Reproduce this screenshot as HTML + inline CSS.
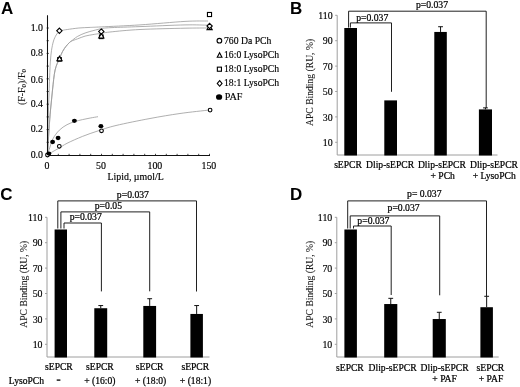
<!DOCTYPE html>
<html><head><meta charset="utf-8"><title>Figure</title>
<style>
html,body{margin:0;padding:0;background:#fff;}
body{width:520px;height:387px;overflow:hidden;}
svg{display:block;will-change:transform;opacity:0.999;}
text{font-family:"Liberation Serif", serif;fill:#000;stroke:#000;stroke-width:0.22px;}
.lbl{font-family:"Liberation Sans", sans-serif;font-weight:bold;font-size:17px;fill:#000;stroke:none;}
.t{font-size:9.6px;}
.tk{font-size:9.9px;stroke-width:0.15px;}
.yt{font-size:9.62px;fill:#1a1a1a;stroke-width:0.08px;}
.p{font-size:9.7px;}
.c{text-anchor:middle;}
.e{text-anchor:end;}
.ax{stroke:#9e9e9e;stroke-width:1;fill:none;}
.bk{stroke:#141414;stroke-width:0.95;fill:none;}
.bar{fill:#000;}
.err{stroke:#111;stroke-width:1;fill:none;}
.cv{stroke:#9a9a9a;stroke-width:0.8;fill:none;}
.mk{stroke:#000;stroke-width:1.1;fill:#fff;}
.mf{stroke:none;fill:#000;}
</style></head><body>
<svg width="520" height="387" viewBox="0 0 520 387">
<rect x="0" y="0" width="520" height="387" fill="#fff"/>

<g id="panelA">
<text class="lbl" transform="translate(0.9,14.3) scale(1,1.02)">A</text>
<path class="cv" d="M47.50,155.00 C47.62,149.17 47.95,130.00 48.20,120.00 C48.45,110.00 48.72,103.33 49.00,95.00 C49.28,86.67 49.65,75.83 49.90,70.00 C50.15,64.17 50.23,63.27 50.50,60.00 C50.77,56.73 51.00,53.57 51.50,50.40 C52.00,47.23 52.72,43.57 53.50,41.00 C54.28,38.43 55.25,36.62 56.20,35.00 C57.15,33.38 58.13,32.08 59.20,31.30 C60.27,30.52 61.25,30.60 62.60,30.30 C63.95,30.00 64.58,29.88 67.30,29.50 C70.02,29.12 75.03,28.35 78.90,28.00 C82.77,27.65 86.77,27.58 90.50,27.40 C94.23,27.22 93.05,27.32 101.30,26.90 C109.55,26.48 126.05,25.82 140.00,24.90 C153.95,23.98 173.67,22.05 185.00,21.40 C196.33,20.75 204.17,21.07 208.00,21.00"/>
<path class="cv" d="M47.50,155.00 C47.75,150.83 48.50,137.50 49.00,130.00 C49.50,122.50 49.92,116.67 50.50,110.00 C51.08,103.33 51.73,96.67 52.50,90.00 C53.27,83.33 53.93,75.25 55.10,70.00 C56.27,64.75 58.23,61.62 59.50,58.50 C60.77,55.38 61.65,53.28 62.70,51.30 C63.75,49.32 64.77,47.97 65.80,46.60 C66.83,45.23 68.00,44.00 68.90,43.10 C69.80,42.20 69.78,42.30 71.20,41.20 C72.62,40.10 75.08,37.87 77.40,36.50 C79.72,35.13 82.52,33.97 85.10,33.00 C87.68,32.03 90.75,31.30 92.90,30.70 C95.05,30.10 96.32,29.80 98.00,29.40 C99.68,29.00 100.67,28.60 103.00,28.30 C105.33,28.00 105.83,27.88 112.00,27.60 C118.17,27.32 127.83,27.05 140.00,26.60 C152.17,26.15 173.67,25.13 185.00,24.90 C196.33,24.67 204.17,25.15 208.00,25.20"/>
<path class="cv" d="M47.50,155.00 C47.75,150.83 48.50,137.50 49.00,130.00 C49.50,122.50 49.92,116.67 50.50,110.00 C51.08,103.33 51.73,96.67 52.50,90.00 C53.27,83.33 53.93,75.25 55.10,70.00 C56.27,64.75 58.23,61.62 59.50,58.50 C60.77,55.38 61.65,53.28 62.70,51.30 C63.75,49.32 64.77,47.97 65.80,46.60 C66.83,45.23 68.00,44.00 68.90,43.10 C69.80,42.20 69.78,41.90 71.20,41.20 C72.62,40.50 75.08,39.75 77.40,38.90 C79.72,38.05 82.52,36.82 85.10,36.10 C87.68,35.38 90.75,34.98 92.90,34.60 C95.05,34.22 95.15,34.23 98.00,33.80 C100.85,33.37 103.00,32.72 110.00,32.00 C117.00,31.28 127.50,30.13 140.00,29.50 C152.50,28.87 173.67,28.45 185.00,28.20 C196.33,27.95 204.17,28.03 208.00,28.00"/>
<path class="cv" d="M47.50,155.00 C48.42,154.42 51.03,152.67 53.00,151.50 C54.97,150.33 56.97,149.37 59.30,148.00 C61.63,146.63 63.13,145.23 67.00,143.30 C70.87,141.37 77.33,138.47 82.50,136.40 C87.67,134.33 92.42,132.72 98.00,130.90 C103.58,129.08 107.33,127.57 116.00,125.50 C124.67,123.43 139.33,120.50 150.00,118.50 C160.67,116.50 170.08,114.92 180.00,113.50 C189.92,112.08 204.58,110.58 209.50,110.00"/>
<path class="cv" d="M47.50,155.00 C47.78,154.08 48.28,152.22 49.20,149.50 C50.12,146.78 51.32,141.92 53.00,138.70 C54.68,135.48 56.97,132.53 59.30,130.20 C61.63,127.87 64.42,126.13 67.00,124.70 C69.58,123.27 72.22,122.45 74.80,121.60 C77.38,120.75 79.92,120.20 82.50,119.60 C85.08,119.00 87.72,118.48 90.30,118.00 C92.88,117.52 96.72,116.92 98.00,116.70"/>
<path d="M47.5,15.3 V155.5 H210" stroke="#111" stroke-width="1.05" fill="none"/>
<path d="M46.6,155.00 h2.2" stroke="#111" stroke-width="0.8"/>
<path d="M46.6,142.30 h2.2" stroke="#111" stroke-width="0.8"/>
<path d="M46.6,129.60 h2.2" stroke="#111" stroke-width="0.8"/>
<path d="M46.6,116.90 h2.2" stroke="#111" stroke-width="0.8"/>
<path d="M46.6,104.20 h2.2" stroke="#111" stroke-width="0.8"/>
<path d="M46.6,91.50 h2.2" stroke="#111" stroke-width="0.8"/>
<path d="M46.6,78.80 h2.2" stroke="#111" stroke-width="0.8"/>
<path d="M46.6,66.10 h2.2" stroke="#111" stroke-width="0.8"/>
<path d="M46.6,53.40 h2.2" stroke="#111" stroke-width="0.8"/>
<path d="M46.6,40.70 h2.2" stroke="#111" stroke-width="0.8"/>
<path d="M46.6,28.00 h2.2" stroke="#111" stroke-width="0.8"/>
<path d="M47.50,155.5 v-1.7" stroke="#111" stroke-width="0.8"/>
<path d="M58.30,155.5 v-1.7" stroke="#111" stroke-width="0.8"/>
<path d="M69.10,155.5 v-1.7" stroke="#111" stroke-width="0.8"/>
<path d="M79.90,155.5 v-1.7" stroke="#111" stroke-width="0.8"/>
<path d="M90.70,155.5 v-1.7" stroke="#111" stroke-width="0.8"/>
<path d="M101.50,155.5 v-1.7" stroke="#111" stroke-width="0.8"/>
<path d="M112.30,155.5 v-1.7" stroke="#111" stroke-width="0.8"/>
<path d="M123.10,155.5 v-1.7" stroke="#111" stroke-width="0.8"/>
<path d="M133.90,155.5 v-1.7" stroke="#111" stroke-width="0.8"/>
<path d="M144.70,155.5 v-1.7" stroke="#111" stroke-width="0.8"/>
<path d="M155.50,155.5 v-1.7" stroke="#111" stroke-width="0.8"/>
<path d="M166.30,155.5 v-1.7" stroke="#111" stroke-width="0.8"/>
<path d="M177.10,155.5 v-1.7" stroke="#111" stroke-width="0.8"/>
<path d="M187.90,155.5 v-1.7" stroke="#111" stroke-width="0.8"/>
<path d="M198.70,155.5 v-1.7" stroke="#111" stroke-width="0.8"/>
<path d="M209.50,155.5 v-1.7" stroke="#111" stroke-width="0.8"/>
<text class="tk e" x="43.0" y="157.50">0.0</text>
<text class="tk e" x="43.0" y="132.20">0.2</text>
<text class="tk e" x="43.0" y="107.00">0.4</text>
<text class="tk e" x="43.0" y="83.30">0.6</text>
<text class="tk e" x="43.0" y="55.90">0.8</text>
<text class="tk e" x="43.0" y="31.10">1.0</text>
<text class="tk c" x="46.90" y="169.0">0</text>
<text class="tk c" x="100.90" y="169.0">50</text>
<text class="tk c" x="154.90" y="169.0">100</text>
<text class="tk c" x="208.90" y="169.0">150</text>
<text class="tk c" x="135.6" y="180">Lipid, µmol/L</text>
<text class="tk c" style="fill:#222;stroke-width:0.1px" transform="translate(24.6,87) rotate(-90)">(F-F<tspan font-size="7" dy="1.8">0</tspan><tspan dy="-1.8">)/F</tspan><tspan font-size="7" dy="1.8">0</tspan></text>
<circle class="mk" cx="47.50" cy="155.00" r="1.85"/>
<circle class="mk" cx="59.30" cy="146.30" r="1.85"/>
<circle class="mk" cx="101.50" cy="130.80" r="1.85"/>
<circle class="mk" cx="210.10" cy="110.10" r="1.85"/>
<rect class="mk" x="57.70" y="57.60" width="3.6" height="3.6"/>
<rect class="mk" x="99.50" y="35.00" width="3.6" height="3.6"/>
<rect class="mk" x="207.45" y="12.45" width="4.1" height="4.1"/>
<path class="mk" d="M59.50,56.20 L62.10,60.80 L56.90,60.80 Z"/>
<path class="mk" d="M101.30,33.40 L103.90,38.00 L98.70,38.00 Z"/>
<path class="mk" d="M209.60,25.00 L212.20,29.60 L207.00,29.60 Z"/>
<path class="mk" d="M59.40,28.15 L62.05,30.80 L59.40,33.45 L56.75,30.80 Z"/>
<path class="mk" d="M101.30,28.95 L103.95,31.60 L101.30,34.25 L98.65,31.60 Z"/>
<path class="mk" d="M209.60,23.35 L212.25,26.00 L209.60,28.65 L206.95,26.00 Z"/>
<ellipse class="mf" cx="48.9" cy="153.6" rx="2.45" ry="2.15"/>
<ellipse class="mf" cx="52.6" cy="142" rx="2.45" ry="2.15"/>
<ellipse class="mf" cx="58.1" cy="138" rx="2.45" ry="2.15"/>
<ellipse class="mf" cx="74.4" cy="120.8" rx="2.45" ry="2.15"/>
<ellipse class="mf" cx="100.9" cy="126.2" rx="2.45" ry="2.15"/>
<circle class="mk" cx="219.40" cy="40.70" r="2.35"/>
<path class="mk" d="M219.60,52.80 L221.95,57.30 L217.25,57.30 Z"/>
<rect class="mk" x="217.35" y="67.15" width="4.1" height="4.1"/>
<path class="mk" d="M219.65,80.55 L222.05,83.40 L219.65,86.25 L217.25,83.40 Z"/>
<ellipse class="mf" cx="219.1" cy="97.0" rx="3.1" ry="2.85"/>
<text class="tk" style="font-size:9.7px" x="224.0" y="44.1">760 Da PCh</text>
<text class="tk" style="font-size:9.7px" x="224.0" y="58.2">16:0 LysoPCh</text>
<text class="tk" style="font-size:9.7px" x="224.0" y="72.1">18:0 LysoPCh</text>
<text class="tk" style="font-size:9.7px" x="224.0" y="85.8">18:1 LysoPCh</text>
<text class="tk" style="font-size:10.2px" x="224.7" y="100.3">PAF</text>
</g>
<g id="panelB">
<text class="lbl" transform="translate(289.9,14.3) scale(1,1.02)">B</text>
<path class="ax" d="M337.2,15.30 V155.0 H497.5"/>
<path class="ax" d="M337.2,142.30 h-2"/>
<text class="tk e" x="332.7" y="146.00">10</text>
<path class="ax" d="M337.2,116.90 h-2"/>
<text class="tk e" x="332.7" y="120.60">30</text>
<path class="ax" d="M337.2,91.50 h-2"/>
<text class="tk e" x="332.7" y="95.20">50</text>
<path class="ax" d="M337.2,66.10 h-2"/>
<text class="tk e" x="332.7" y="69.80">70</text>
<path class="ax" d="M337.2,40.70 h-2"/>
<text class="tk e" x="332.7" y="44.40">90</text>
<path class="ax" d="M337.2,15.30 h-2"/>
<text class="tk e" x="332.7" y="19.00">110</text>
<text class="yt c" transform="translate(313.4,82.4) rotate(-90)">APC Binding (RU, %)</text>
<rect class="bar" x="344.3" y="28.00" width="12.70" height="127.50"/>
<rect class="bar" x="384.3" y="100.39" width="12.70" height="55.11"/>
<rect class="bar" x="434.3" y="31.94" width="12.50" height="123.56"/>
<path class="err" d="M440.55,31.94 V26.73 M438.15,26.73 h4.8"/>
<rect class="bar" x="478.9" y="109.41" width="13.10" height="46.09"/>
<path class="err" d="M485.45,109.41 V107.88 M483.05,107.88 h4.8"/>
<path class="bk" d="M350.4,27.6 V22.9 H391.5 V91.8"/>
<text class="p c" x="372.2" y="21.2">p=0.037</text>
<path class="bk" d="M348.6,27.6 V11.2 H486.2 V108.0"/>
<text class="p c" x="432.0" y="8.3">p=0.037</text>
<text class="t c" x="348" y="167.7">sEPCR</text>
<text class="t c" x="390.1" y="167.7">Dlip-sEPCR</text>
<text class="t c" x="441.9" y="167.7">Dlip-sEPCR</text>
<text class="t c" x="494" y="167.7">Dlip-sEPCR</text>
<text class="t c" x="442.7" y="178.9">+ PCh</text>
<text class="t c" x="494.2" y="178.9">+ LysoPCh</text>

</g>
<g id="panelC">
<text class="lbl" transform="translate(0.3,200.4) scale(1,1.02)">C</text>
<path class="ax" d="M47.0,217.30 V357.0 H209.5"/>
<path class="ax" d="M47.0,344.30 h-2"/>
<text class="tk e" x="42.5" y="348.00">10</text>
<path class="ax" d="M47.0,318.90 h-2"/>
<text class="tk e" x="42.5" y="322.60">30</text>
<path class="ax" d="M47.0,293.50 h-2"/>
<text class="tk e" x="42.5" y="297.20">50</text>
<path class="ax" d="M47.0,268.10 h-2"/>
<text class="tk e" x="42.5" y="271.80">70</text>
<path class="ax" d="M47.0,242.70 h-2"/>
<text class="tk e" x="42.5" y="246.40">90</text>
<path class="ax" d="M47.0,217.30 h-2"/>
<text class="tk e" x="42.5" y="221.00">110</text>
<text class="yt c" transform="translate(27.1,284.2) rotate(-90)">APC Binding (RU, %)</text>
<rect class="bar" x="54.6" y="229.49" width="12.40" height="128.01"/>
<rect class="bar" x="94.3" y="308.23" width="12.90" height="49.27"/>
<path class="err" d="M100.75,308.23 V305.57 M98.35,305.57 h4.8"/>
<rect class="bar" x="143.3" y="305.95" width="12.80" height="51.55"/>
<path class="err" d="M149.70,305.95 V298.71 M147.30,298.71 h4.8"/>
<rect class="bar" x="190.4" y="313.95" width="12.50" height="43.55"/>
<path class="err" d="M196.65,313.95 V305.56 M194.25,305.56 h4.8"/>
<path class="bk" d="M64.0,228.5 V223.0 H101.4 V291.4"/>
<text class="p c" x="85.7" y="220.4">p=0.037</text>
<path class="bk" d="M60.9,228.5 V211.9 H149.7 V291.3"/>
<text class="p c" x="108.4" y="208.9">p=0.05</text>
<path class="bk" d="M57.8,228.5 V200.9 H196.5 V291.5"/>
<text class="p c" x="132.9" y="197.6">p=0.037</text>
<text class="t c" x="58.9" y="369.6">sEPCR</text>
<text class="t c" x="99.9" y="369.6">sEPCR</text>
<text class="t c" x="149.6" y="369.6">sEPCR</text>
<text class="t c" x="195.3" y="369.6">sEPCR</text>
<text class="t s" x="8.8" y="383.5">LysoPCh</text>
<text class="t c" x="99.9" y="383.5">+ (16:0)</text>
<text class="t c" x="150.7" y="383.5">+ (18:0)</text>
<text class="t c" x="195.5" y="383.5">+ (18:1)</text>
<rect x="56.7" y="379.4" width="3.7" height="1.4" fill="#111"/>
</g>
<g id="panelD">
<text class="lbl" transform="translate(289.9,200.3) scale(1,1.02)">D</text>
<path class="ax" d="M336.8,217.30 V357.0 H498.7"/>
<path class="ax" d="M336.8,344.30 h-2"/>
<text class="tk e" x="332.3" y="348.00">10</text>
<path class="ax" d="M336.8,318.90 h-2"/>
<text class="tk e" x="332.3" y="322.60">30</text>
<path class="ax" d="M336.8,293.50 h-2"/>
<text class="tk e" x="332.3" y="297.20">50</text>
<path class="ax" d="M336.8,268.10 h-2"/>
<text class="tk e" x="332.3" y="271.80">70</text>
<path class="ax" d="M336.8,242.70 h-2"/>
<text class="tk e" x="332.3" y="246.40">90</text>
<path class="ax" d="M336.8,217.30 h-2"/>
<text class="tk e" x="332.3" y="221.00">110</text>
<text class="yt c" transform="translate(313.3,284.2) rotate(-90)">APC Binding (RU, %)</text>
<rect class="bar" x="344.4" y="229.49" width="12.50" height="128.01"/>
<rect class="bar" x="384.2" y="304.04" width="13.10" height="53.46"/>
<path class="err" d="M390.75,304.04 V298.33 M388.35,298.33 h4.8"/>
<rect class="bar" x="432.7" y="319.03" width="13.10" height="38.47"/>
<path class="err" d="M439.25,319.03 V312.30 M436.85,312.30 h4.8"/>
<rect class="bar" x="480.4" y="307.22" width="12.50" height="50.28"/>
<path class="err" d="M486.65,307.22 V296.29 M484.25,296.29 h4.8"/>
<path class="bk" d="M353.5,228.5 V226.0 H391.2 V295.0"/>
<text class="p c" x="373.4" y="223.5">p=0.037</text>
<path class="bk" d="M350.2,228.5 V215.9 H439.7 V295.3"/>
<text class="p c" x="403.6" y="211.0">p=0.037</text>
<path class="bk" d="M347.7,228.5 V200.9 H486.5 V296.0"/>
<text class="p c" x="424.3" y="197.0">p= 0.037</text>
<text class="t c" x="349.9" y="370.7">sEPCR</text>
<text class="t c" x="392.6" y="370.7">Dlip-sEPCR</text>
<text class="t c" x="444.6" y="370.7">Dlip-sEPCR</text>
<text class="t c" x="490.4" y="370.7">sEPCR</text>
<text class="t c" x="444.6" y="382.0">+ PAF</text>
<text class="t c" x="491" y="382.0">+ PAF</text>

</g>
</svg></body></html>
